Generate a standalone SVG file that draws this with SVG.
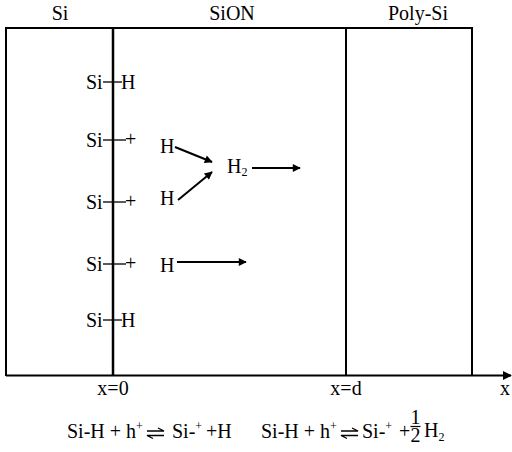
<svg xmlns="http://www.w3.org/2000/svg" width="512" height="452" viewBox="0 0 512 452">
<style>
text{font-family:"Liberation Serif","Times New Roman",serif;font-size:20px;fill:#000}
.ln{stroke:#000;stroke-width:2;fill:none}
.th{stroke:#000;stroke-width:2.5;fill:none}
.ar{stroke:#000;stroke-width:2;fill:none;marker-end:url(#ah)}
.tk{stroke:#000;stroke-width:1.3;fill:none}
.sup{font-size:12px}
.sub{font-size:12px}
</style>
<defs>
<marker id="ah" viewBox="0 0 10 10" refX="9" refY="5" markerWidth="10" markerHeight="8" orient="auto" markerUnits="userSpaceOnUse">
<path d="M0,0 L10,5 L0,10 z" fill="#000"/>
</marker>
<marker id="ax" viewBox="0 0 10 10" refX="9" refY="5" markerWidth="9" markerHeight="9" orient="auto" markerUnits="userSpaceOnUse">
<path d="M0,0 L10,5 L0,10 z" fill="#000"/>
</marker>
</defs>
<g id="layers">
<text x="60" y="20" text-anchor="middle">Si</text>
<text x="232" y="20" text-anchor="middle">SiON</text>
<text x="418" y="20" text-anchor="middle">Poly-Si</text>
<path class="ln" d="M6,376 L6,28 L472,28 L472,376"/>
<line class="th" x1="113" y1="28" x2="113" y2="376"/>
<line class="ln" x1="346" y1="28" x2="346" y2="376"/>
<line x1="6" y1="375.5" x2="511" y2="375.5" stroke="#000" stroke-width="2" marker-end="url(#ax)"/>
<text x="113" y="395" text-anchor="middle">x=0</text>
<text x="346" y="395" text-anchor="middle">x=d</text>
<text x="505" y="395" text-anchor="middle">x</text>
</g>
<g id="interface-sites">
<text x="86" y="89">Si</text><line class="tk" x1="103" y1="82" x2="122" y2="82"/><text x="121" y="89">H</text>
<text x="86" y="147">Si</text><line class="tk" x1="103" y1="140" x2="126" y2="140"/><text x="125" y="146" font-size="17">+</text>
<text x="86" y="209">Si</text><line class="tk" x1="103" y1="202" x2="126" y2="202"/><text x="125" y="208" font-size="17">+</text>
<text x="86" y="271">Si</text><line class="tk" x1="103" y1="264" x2="126" y2="264"/><text x="125" y="270" font-size="17">+</text>
<text x="86" y="327">Si</text><line class="tk" x1="103" y1="320" x2="122" y2="320"/><text x="121" y="327">H</text>
</g>
<g id="species">
<text x="160" y="153">H</text>
<text x="160" y="205">H</text>
<text x="227" y="173">H<tspan class="sub" dy="3">2</tspan></text>
<text x="160" y="272">H</text>
</g>
<g id="connectors">
<line class="ar" x1="175" y1="147" x2="212" y2="162"/>
<line class="ar" x1="178" y1="200" x2="212" y2="172"/>
<line class="ar" x1="252" y1="168" x2="300" y2="168"/>
<line class="ar" x1="177" y1="262" x2="246" y2="262"/>
</g>
<g id="equations">
<text x="67" y="438">Si-H + h<tspan class="sup" dy="-8">+</tspan></text>
<path d="M147,431 L164,431 L158,428" class="tk"/>
<path d="M164,435.5 L147,435.5 L153,438.5" class="tk"/>
<text x="172" y="438">Si-<tspan class="sup" dy="-8">+</tspan></text>
<text x="206" y="438">+H</text>
<text x="261" y="438">Si-H + h<tspan class="sup" dy="-8">+</tspan></text>
<path d="M341,431 L358,431 L352,428" class="tk"/>
<path d="M358,435.5 L341,435.5 L347,438.5" class="tk"/>
<text x="362" y="438">Si-<tspan class="sup" dy="-8">+</tspan></text>
<text x="399" y="438">+</text>
<text x="415.5" y="424" text-anchor="middle" font-size="16">1</text>
<line x1="410.5" y1="426.5" x2="420.5" y2="426.5" stroke="#000" stroke-width="1.2"/>
<text x="415.5" y="442" text-anchor="middle" font-size="16">2</text>
<text x="424" y="437">H<tspan class="sub" dy="4">2</tspan></text>
</g>
</svg>
